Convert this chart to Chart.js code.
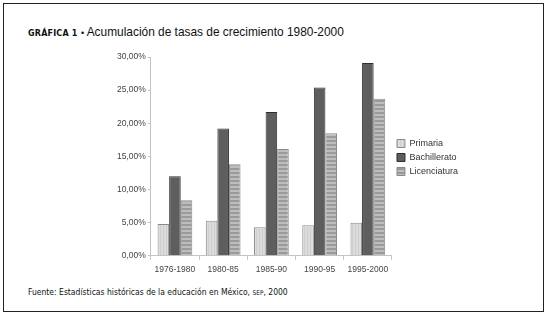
<!DOCTYPE html>
<html>
<head>
<meta charset="utf-8">
<script src="https://cdn.jsdelivr.net/npm/chart.js@4"></script>
<style>
  html, body { margin: 0; padding: 0; background: #fff; }
  #wrap { position: relative; width: 548px; height: 318px; overflow: hidden; }
  #box { position: absolute; left: 3px; top: 3px; width: 541px; height: 309px; border: 1px solid #222; box-sizing: border-box; }
  #title { position: absolute; left: 28px; top: 25px; font-family: "Liberation Sans", Arial, sans-serif; font-size: 11.9px; color: #111; white-space: nowrap; }
  #title b { font-family: "DejaVu Sans", sans-serif; font-size: 8px; letter-spacing: 0.2px; }
  #title .dot { font-size: 9px; }
  #foot { position: absolute; left: 28px; top: 287px; font-family: "DejaVu Sans Condensed", "DejaVu Sans", sans-serif; font-size: 8.5px; color: #111; white-space: nowrap; }
  #foot .sc { font-size: 6.5px; }
  #cv { position: absolute; left: 0; top: 0; }
</style>
</head>
<body>
<div id="wrap">
  <div id="box"></div>
  <div id="title"><b>GRÁFICA 1</b> <span class="dot">•</span> Acumulación de tasas de crecimiento 1980-2000</div>
  <div id="foot">Fuente: Estadísticas históricas de la educación en México, <span class="sc">SEP</span>, 2000</div>
  <canvas id="cv" width="548" height="318"></canvas>
</div>
<script>
// ── data ─────────────────────────────────────────────────
const periodos     = ["1976-1980", "1980-85", "1985-90", "1990-95", "1995-2000"];
const primaria     = [4.8, 5.3, 4.3, 4.6, 5.0];
const bachillerato = [12.0, 19.2, 21.7, 25.4, 29.1];
const licenciatura = [8.4, 13.8, 16.1, 18.5, 23.7];
const yTicks       = [0, 5, 10, 15, 20, 25, 30];

const FONT = "Liberation Sans, Arial, sans-serif";

// ── patterns ────────────────────────────────────────────
function makePattern(w, h, draw) {
  const c = document.createElement("canvas");
  c.width = w; c.height = h;
  draw(c.getContext("2d"));
  return c.getContext("2d").createPattern(c, "repeat");
}
const patPrim = makePattern(3, 3, (g) => {
  g.fillStyle = "#dcdcdc"; g.fillRect(0, 0, 3, 3);
  g.fillStyle = "#cfcfcf"; g.fillRect(1, 0, 1, 3);
});
const patLic = makePattern(4, 4, (g) => {
  g.fillStyle = "#bdbdbd"; g.fillRect(0, 0, 4, 4);
  g.fillStyle = "#9a9a9a"; g.fillRect(0, 0, 4, 2);
});

const fmt = (v) => v.toFixed(2).replace(".", ",") + "%";

// legend sube un poco (centrado sobre el área de barras, no sobre todo el hueco)
const legendShift = {
  id: "legendShift",
  afterLayout(chart) {
    const lg = chart.legend;
    if (!lg) return;
    lg.top -= 11;
    lg.bottom -= 11;
  },
};

const ctx = document.getElementById("cv").getContext("2d");
new Chart(ctx, {
  type: "bar",
  data: {
    labels: periodos,
    datasets: [
      { label: "Primaria",     data: primaria,     backgroundColor: patPrim,   borderColor: "#8a8a8a", borderWidth: 1 },
      { label: "Bachillerato", data: bachillerato, backgroundColor: "#5e5e5e", borderColor: "#2e2e2e", borderWidth: 1 },
      { label: "Licenciatura", data: licenciatura, backgroundColor: patLic,    borderColor: "#8a8a8a", borderWidth: 1 },
    ],
  },
  options: {
    responsive: false,
    animation: false,
    layout: { padding: { left: 115, right: 80, top: 57, bottom: 38 } },
    datasets: { bar: { categoryPercentage: 0.72, barPercentage: 1.0 } },
    plugins: {
      legend: {
        position: "right",
        labels: {
          boxWidth: 8, boxHeight: 8, padding: 5,
          color: "#333",
          font: { family: FONT, size: 9 },
        },
      },
      tooltip: { enabled: false },
    },
    scales: {
      x: {
        grid: { drawOnChartArea: false, drawTicks: true, tickLength: 4, color: "#c4c4c4", offset: true },
        border: { color: "#c4c4c4" },
        ticks: { color: "#444", padding: 5, maxRotation: 0, autoSkip: false, font: { family: FONT, size: 8.5 } },
      },
      y: {
        min: 0, max: 30,
        afterBuildTicks: (ax) => { ax.ticks = yTicks.map((v) => ({ value: v })); },
        grid: { drawOnChartArea: false, drawTicks: true, tickLength: 3, color: "#c4c4c4" },
        border: { color: "#c4c4c4" },
        ticks: { color: "#444", padding: 2, callback: (v) => fmt(v), font: { family: FONT, size: 8.5 } },
      },
    },
  },
  plugins: [legendShift],
});
</script>
</body>
</html>
